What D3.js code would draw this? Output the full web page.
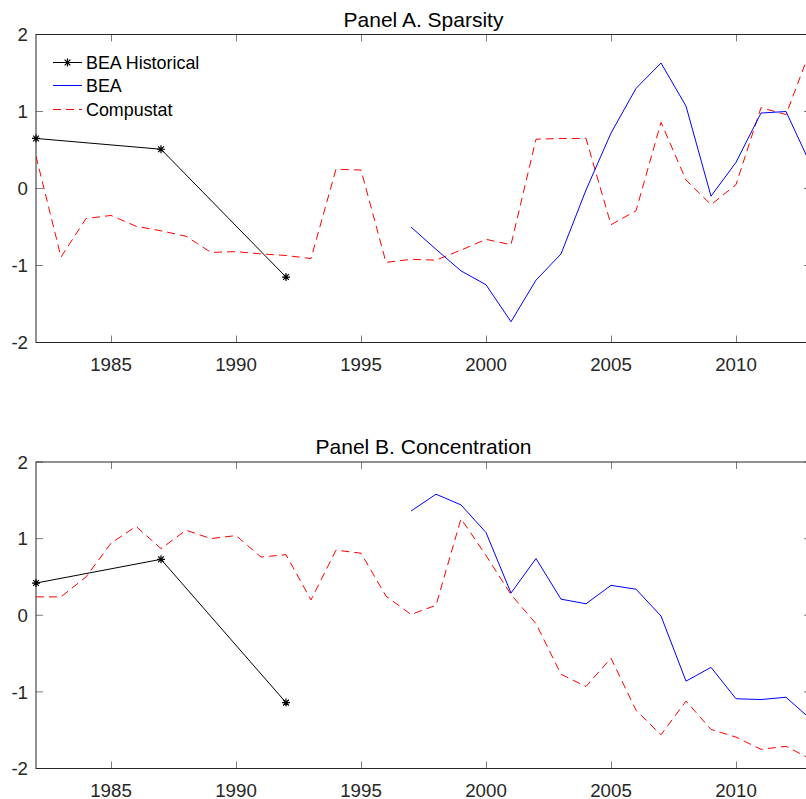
<!DOCTYPE html>
<html lang="en">
<head>
    <meta charset="UTF-8">
    <title>Sparsity and Concentration</title>
    <script src="https://cdn.jsdelivr.net/npm/d3@7"></script>
    <style>
        body { margin: 0; background: #fff; }
        svg { display: block; font-family: "Liberation Sans", Arial, sans-serif; }
    </style>
</head>
<body>
<script>
    // years on the x axis
    var years = [1982, 1983, 1984, 1985, 1986, 1987, 1988, 1989, 1990, 1991,
        1992, 1993, 1994, 1995, 1996, 1997, 1998, 1999, 2000, 2001,
        2002, 2003, 2004, 2005, 2006, 2007, 2008, 2009, 2010, 2011, 2012, 2013];
    var histYears = [1982, 1987, 1992];
    var beaYears = [1997, 1998, 1999, 2000, 2001, 2002, 2003, 2004, 2005,
        2006, 2007, 2008, 2009, 2010, 2011, 2012, 2013];
    var xTicks = [1985, 1990, 1995, 2000, 2005, 2010];
    var yTicks = [-2, -1, 0, 1, 2];

    // Panel A. Sparsity
    var histA = [0.65, 0.51, -1.15];
    var beaA = [-0.50, -0.79, -1.07, -1.25, -1.73, -1.19, -0.85, -0.02, 0.72,
        1.30, 1.63, 1.07, -0.10, 0.34, 0.98, 1.00, 0.30];
    var compA = [0.42, -0.89, -0.39, -0.35, -0.49, -0.55, -0.62, -0.83, -0.82, -0.85,
        -0.87, -0.91, 0.25, 0.24, -0.96, -0.92, -0.93, -0.80, -0.66, -0.73,
        0.64, 0.65, 0.65, -0.47, -0.29, 0.86, 0.11, -0.21, 0.05, 1.05, 0.96, 1.82];

    // Panel B. Concentration
    var histB = [0.42, 0.73, -1.14];
    var beaB = [1.36, 1.58, 1.44, 1.08, 0.29, 0.74, 0.21, 0.15, 0.39,
        0.34, -0.01, -0.86, -0.68, -1.09, -1.10, -1.07, -1.36];
    var compB = [0.24, 0.24, 0.50, 0.94, 1.16, 0.87, 1.11, 1.00, 1.04, 0.76,
        0.79, 0.20, 0.85, 0.81, 0.25, 0.01, 0.13, 1.26, 0.78, 0.27,
        -0.11, -0.77, -0.93, -0.56, -1.24, -1.56, -1.12, -1.49, -1.59, -1.75, -1.71, -1.88];

    var seriesNames = ["BEA Historical", "BEA", "Compustat"];

    var w = 806, h = 799;
    var left = 36, right = 811;
    var axisColor = "#262626";

    var svg = d3.select("body").append("svg")
        .attr("width", w)
        .attr("height", h);

    var xScale = d3.scaleLinear()
        .domain([1982, 2013])
        .range([left, right]);

    // asterisk marker, MATLAB style (8 spokes)
    function asterisk(r) {
        var d = r * 0.72;
        return "M" + (-r) + ",0L" + r + ",0M0," + (-r) + "L0," + r +
            "M" + (-d) + "," + (-d) + "L" + d + "," + d +
            "M" + (-d) + "," + d + "L" + d + "," + (-d);
    }

    function drawPanel(id, top, bottom, title, hist, bea, comp, showLegend) {
        var yScale = d3.scaleLinear()
            .domain([-2, 2])
            .range([bottom, top]);

        var g = svg.append("g");

        g.append("clipPath").attr("id", "clip" + id)
            .append("rect")
            .attr("x", left).attr("y", top)
            .attr("width", right - left).attr("height", bottom - top);

        // box
        g.append("rect")
            .attr("x", left).attr("y", top)
            .attr("width", right - left).attr("height", bottom - top)
            .attr("fill", "none")
            .attr("stroke", axisColor)
            .attr("stroke-width", 1);

        // x ticks (bottom and top, pointing inward)
        xTicks.forEach(function (t) {
            var x = Math.round(xScale(t)) + 0.5;
            g.append("line").attr("x1", x).attr("x2", x)
                .attr("y1", bottom).attr("y2", bottom - 7)
                .attr("stroke", axisColor).attr("stroke-opacity", 0.6);
            g.append("line").attr("x1", x).attr("x2", x)
                .attr("y1", top).attr("y2", top + 7)
                .attr("stroke", axisColor).attr("stroke-opacity", 0.6);
            g.append("text")
                .attr("x", xScale(t))
                .attr("y", bottom + 28)
                .attr("text-anchor", "middle")
                .attr("font-size", "18.7px")
                .attr("fill", axisColor)
                .text(t);
        });

        // y ticks (left and right)
        yTicks.forEach(function (t) {
            var y = yScale(t);
            g.append("line").attr("x1", left).attr("x2", left + 7)
                .attr("y1", y).attr("y2", y)
                .attr("stroke", axisColor).attr("stroke-opacity", 0.6);
            g.append("line").attr("x1", right).attr("x2", right - 7)
                .attr("y1", y).attr("y2", y)
                .attr("stroke", axisColor).attr("stroke-opacity", 0.6);
            g.append("text")
                .attr("x", left - 8)
                .attr("y", y)
                .attr("dy", "0.36em")
                .attr("text-anchor", "end")
                .attr("font-size", "18.7px")
                .attr("fill", axisColor)
                .text(t);
        });

        g.append("text")
            .attr("x", (left + right) / 2)
            .attr("y", top - 8)
            .attr("text-anchor", "middle")
            .attr("font-size", "21px")
            .attr("fill", "#000")
            .text(title);

        var plot = g.append("g").attr("clip-path", "url(#clip" + id + ")");

        var line = d3.line()
            .x(function (d) { return xScale(d[0]); })
            .y(function (d) { return yScale(d[1]); });

        var compData = years.map(function (yr, i) { return [yr, comp[i]]; });
        var beaData = beaYears.map(function (yr, i) { return [yr, bea[i]]; });
        var histData = histYears.map(function (yr, i) { return [yr, hist[i]]; });

        plot.append("path")
            .datum(compData)
            .attr("d", line)
            .attr("fill", "none")
            .attr("stroke", "#ff0000")
            .attr("stroke-width", 1)
            .attr("stroke-dasharray", "8,5");

        plot.append("path")
            .datum(beaData)
            .attr("d", line)
            .attr("fill", "none")
            .attr("stroke", "#0000ff")
            .attr("stroke-width", 1);

        plot.append("path")
            .datum(histData)
            .attr("d", line)
            .attr("fill", "none")
            .attr("stroke", "#000")
            .attr("stroke-width", 1);

        g.selectAll(".mark" + id)
            .data(histData)
            .enter()
            .append("path")
            .attr("transform", function (d) {
                return "translate(" + xScale(d[0]) + "," + yScale(d[1]) + ")";
            })
            .attr("d", asterisk(4))
            .attr("stroke", "#000")
            .attr("stroke-width", 1.2)
            .attr("fill", "none");

        if (showLegend) {
            var styles = [
                {color: "#000", dash: null, marker: true},
                {color: "#0000ff", dash: null, marker: false},
                {color: "#ff0000", dash: "8,5", marker: false}
            ];
            var rows = [62, 85, 109];
            seriesNames.forEach(function (name, i) {
                var ly = rows[i] + 0.5;
                g.append("line")
                    .attr("x1", 53).attr("x2", 82)
                    .attr("y1", ly).attr("y2", ly)
                    .attr("stroke", styles[i].color)
                    .attr("stroke-dasharray", styles[i].dash);
                if (styles[i].marker) {
                    g.append("path")
                        .attr("transform", "translate(67.5," + ly + ")")
                        .attr("d", asterisk(4))
                        .attr("stroke", "#000")
                        .attr("stroke-width", 1.2);
                }
                g.append("text")
                    .attr("x", 86)
                    .attr("y", ly)
                    .attr("dy", "0.36em")
                    .attr("font-size", "17.9px")
                    .attr("fill", "#000")
                    .text(name);
            });
        }
    }

    drawPanel("A", 34.5, 342.5, "Panel A. Sparsity", histA, beaA, compA, true);
    drawPanel("B", 462, 768.5, "Panel B. Concentration", histB, beaB, compB, false);
</script>
</body>
</html>
